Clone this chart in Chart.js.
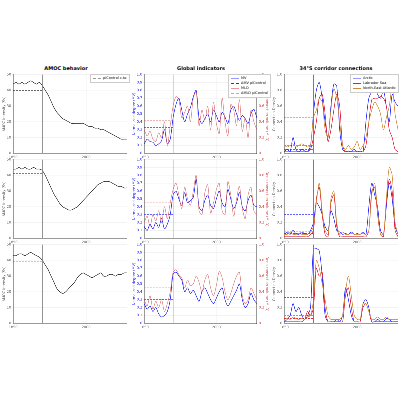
<!DOCTYPE html>
<html><head><meta charset="utf-8">
<script src="https://cdn.jsdelivr.net/npm/chart.js@4"></script>
<style>
body{margin:0;background:#fff;font-family:"DejaVu Sans",sans-serif;}
#wrap{position:relative;width:400px;height:400px;}
.box{position:absolute;}
.t{position:absolute;font-size:5px;font-weight:bold;text-align:center;}
.lg{position:absolute;font-size:3.5px;background:#fff;border:0.5px solid #ccc;padding:1px 2px;line-height:5px;white-space:nowrap;}
.lg i{display:inline-block;width:8px;height:0;border-top:1px solid;vertical-align:middle;margin-right:2px;}
</style></head><body><div id="wrap"></div>
<script>
// time steps (years), transition at index 10
const years = Array.from({length: 40}, (_, i) => 1850 + i * 6);
const xTicks = [1850, 1900, 1950, 2000, 2050];
const shiftIdx = 10;

// AMOC intensity (Sv)
const amoc1 = [44,45,44,45,44,45,46,45,44,45,43,40,37,33,29,26,24,22,21,20,19,19,19,19,19,18,17,17,16,16,15,15,14,13,12,11,10,9,9,9];
const amoc2 = [44,44,45,44,45,44,44,45,44,44,43,40,36,32,28,25,22,20,19,18,18,19,20,22,24,26,28,30,32,34,35,36,36,36,35,34,33,33,32,32];
const amoc3 = [43,43,44,44,43,44,45,44,43,42,40,37,34,30,26,22,20,19,20,22,24,26,29,31,32,31,30,29,30,31,32,30,30,31,31,30,31,31,32,32];
const amocRef = [40, 41, 39];

// global indicators: normalized degree (MV) and MLD
const mv1 = [0.12,0.18,0.15,0.14,0.10,0.12,0.16,0.30,0.12,0.18,0.45,0.62,0.70,0.55,0.40,0.50,0.58,0.72,0.80,0.45,0.38,0.44,0.50,0.40,0.55,0.48,0.40,0.52,0.46,0.38,0.55,0.60,0.50,0.42,0.48,0.44,0.38,0.50,0.56,0.45];
const mld1 = [0.30,0.22,0.28,0.18,0.15,0.26,0.20,0.40,0.10,0.35,0.60,0.72,0.68,0.45,0.52,0.60,0.40,0.70,0.78,0.35,0.55,0.42,0.60,0.30,0.65,0.38,0.25,0.70,0.40,0.22,0.62,0.55,0.35,0.68,0.28,0.45,0.20,0.55,0.40,0.30];
const mv2 = [0.15,0.10,0.18,0.12,0.20,0.14,0.25,0.12,0.18,0.30,0.55,0.60,0.50,0.42,0.58,0.45,0.48,0.52,0.75,0.40,0.35,0.48,0.55,0.42,0.38,0.50,0.60,0.45,0.40,0.62,0.50,0.38,0.45,0.58,0.40,0.35,0.48,0.55,0.42,0.40];
const mld2 = [0.20,0.28,0.15,0.30,0.22,0.35,0.20,0.40,0.25,0.45,0.62,0.70,0.55,0.38,0.65,0.50,0.42,0.60,0.80,0.35,0.30,0.58,0.68,0.32,0.45,0.62,0.70,0.35,0.30,0.72,0.55,0.28,0.50,0.66,0.38,0.25,0.55,0.65,0.35,0.30];
const mv3 = [0.25,0.18,0.22,0.15,0.20,0.12,0.08,0.10,0.15,0.30,0.62,0.65,0.60,0.55,0.40,0.45,0.38,0.42,0.35,0.28,0.40,0.45,0.38,0.30,0.25,0.32,0.40,0.45,0.30,0.22,0.28,0.35,0.42,0.50,0.30,0.20,0.25,0.38,0.30,0.25];
const mld3 = [0.30,0.22,0.35,0.18,0.28,0.20,0.30,0.15,0.25,0.40,0.65,0.68,0.62,0.58,0.45,0.55,0.48,0.50,0.60,0.52,0.40,0.55,0.62,0.45,0.35,0.48,0.66,0.58,0.40,0.30,0.38,0.50,0.60,0.65,0.35,0.25,0.30,0.45,0.38,0.30];
const mvRef = [0.33, 0.30, 0.30];
const mldRef = [0.42, 0.45, 0.45];

// 34°S corridor connection density
const arc1 = [0.02,0.05,0.02,0.20,0.05,0.02,0.05,0.03,0.02,0.10,0.50,0.80,0.90,0.70,0.40,0.20,0.60,0.88,0.85,0.30,0.05,0.02,0.03,0.02,0.05,0.02,0.03,0.02,0.40,0.70,0.78,0.82,0.75,0.70,0.80,0.60,0.40,0.75,0.65,0.60];
const lab1 = [0.02,0.02,0.02,0.02,0.02,0.02,0.02,0.02,0.02,0.05,0.20,0.40,0.70,0.75,0.50,0.15,0.30,0.55,0.75,0.60,0.10,0.02,0.02,0.02,0.02,0.02,0.02,0.02,0.10,0.40,0.68,0.70,0.70,0.72,0.70,0.60,0.30,0.20,0.05,0.02];
const nea1 = [0.10,0.08,0.10,0.12,0.08,0.10,0.12,0.10,0.08,0.10,0.45,0.55,0.70,0.65,0.30,0.20,0.55,0.82,0.70,0.40,0.10,0.05,0.10,0.05,0.08,0.15,0.05,0.10,0.20,0.40,0.55,0.65,0.60,0.50,0.30,0.45,0.60,0.85,0.50,0.30];
const arc2 = [0.05,0.08,0.05,0.10,0.06,0.05,0.08,0.06,0.05,0.10,0.20,0.45,0.40,0.30,0.15,0.10,0.35,0.25,0.10,0.08,0.05,0.06,0.05,0.08,0.05,0.06,0.05,0.08,0.05,0.40,0.70,0.55,0.40,0.10,0.05,0.40,0.70,0.50,0.15,0.05];
const lab2 = [0.02,0.02,0.02,0.02,0.02,0.02,0.02,0.02,0.02,0.05,0.10,0.50,0.65,0.30,0.05,0.02,0.45,0.55,0.15,0.02,0.02,0.02,0.02,0.02,0.02,0.02,0.02,0.02,0.02,0.10,0.60,0.65,0.30,0.05,0.02,0.45,0.75,0.60,0.10,0.02];
const nea2 = [0.05,0.05,0.08,0.05,0.05,0.06,0.05,0.05,0.05,0.08,0.15,0.45,0.70,0.35,0.10,0.05,0.50,0.60,0.20,0.05,0.08,0.05,0.05,0.06,0.05,0.05,0.05,0.06,0.05,0.10,0.55,0.70,0.35,0.05,0.05,0.50,0.90,0.80,0.20,0.05];
const arc3 = [0.02,0.05,0.10,0.25,0.15,0.20,0.10,0.05,0.10,0.20,0.95,0.95,0.92,0.60,0.10,0.02,0.02,0.02,0.05,0.02,0.10,0.45,0.30,0.10,0.02,0.02,0.02,0.25,0.30,0.20,0.02,0.02,0.05,0.02,0.02,0.06,0.05,0.02,0.02,0.02];
const lab3 = [0.02,0.02,0.02,0.02,0.02,0.02,0.02,0.05,0.15,0.10,0.20,0.70,0.60,0.65,0.20,0.02,0.02,0.02,0.02,0.02,0.02,0.35,0.45,0.20,0.02,0.02,0.02,0.20,0.25,0.15,0.02,0.02,0.02,0.02,0.02,0.02,0.02,0.02,0.02,0.02];
const nea3 = [0.05,0.06,0.05,0.08,0.06,0.05,0.06,0.05,0.08,0.10,0.30,0.80,0.70,0.50,0.30,0.10,0.05,0.05,0.05,0.05,0.10,0.40,0.60,0.35,0.10,0.05,0.05,0.25,0.25,0.15,0.05,0.05,0.08,0.05,0.05,0.08,0.05,0.05,0.05,0.05];
const arcRef = [0.45, 0.30, 0.33];
const labRef = [0.05, 0.06, 0.06];
const neaRef = [0.10, 0.09, 0.10];

const wrap = document.getElementById('wrap');
Chart.defaults.font.size = 3.5;
Chart.defaults.font.family = 'DejaVu Sans';
Chart.defaults.animation = false;

function refLine(v) {
  return years.map((_, i) => i <= shiftIdx ? v : null);
}

// vertical line at the transition
const vline = {
  id: 'vline',
  afterDatasetsDraw(c) {
    const x = c.scales.x.getPixelForValue(shiftIdx);
    const ctx = c.ctx;
    ctx.save();
    ctx.strokeStyle = '#777';
    ctx.lineWidth = 0.6;
    ctx.beginPath();
    ctx.moveTo(x, c.chartArea.top);
    ctx.lineTo(x, c.chartArea.bottom);
    ctx.stroke();
    ctx.restore();
  }
};

function makeChart(left, top, w, h, datasets, yOpt, y2Opt) {
  const box = document.createElement('div');
  box.className = 'box';
  box.style.left = left + 'px';
  box.style.top = top + 'px';
  box.style.width = w + 'px';
  box.style.height = h + 'px';
  const cv = document.createElement('canvas');
  box.appendChild(cv);
  wrap.appendChild(box);
  const scales = {
    x: {
      ticks: {
        autoSkip: false, maxRotation: 0, padding: 0.5,
        callback: (v, i) => xTicks.includes(years[i]) ? years[i] : null
      },
      grid: {color: '#e6e6e6', lineWidth: 0.3, tickLength: 1.5},
      border: {color: '#333', width: 0.5}
    },
    y: Object.assign({
      ticks: {padding: 0.5, maxTicksLimit: 7},
      grid: {color: '#e6e6e6', lineWidth: 0.3, tickLength: 1.5},
      border: {color: '#333', width: 0.5}
    }, yOpt)
  };
  if (y2Opt) scales.y2 = Object.assign({
    position: 'right', grid: {display: false, tickLength: 1.5},
    ticks: {padding: 0.5, maxTicksLimit: 7, color: '#d05050'},
    border: {color: '#333', width: 0.5}
  }, y2Opt);
  new Chart(cv, {
    type: 'line',
    data: {labels: years, datasets: datasets.map(d => Object.assign({pointRadius: 0, borderWidth: 0.6, tension: 0.3, fill: false, yAxisID: 'y'}, d))},
    options: {
      responsive: true, maintainAspectRatio: false, devicePixelRatio: 4,
      layout: {padding: {top: 1, right: 1}},
      plugins: {legend: {display: false}, tooltip: {enabled: false}},
      scales: scales
    },
    plugins: [vline]
  });
}

const rowsTop = [72, 157, 242];
const rowH = 88;

// column 1: AMOC behavior
[amoc1, amoc2, amoc3].forEach((d, r) => {
  makeChart(2, rowsTop[r], 126, rowH, [
    {data: d, borderColor: '#333'},
    {data: refLine(amocRef[r]), borderColor: '#333', borderDash: [2, 1], tension: 0}
  ], {min: 0, max: 50, title: {display: true, text: 'AMOC intensity (Sv)', padding: 0}});
});

// column 2: global indicators
[[mv1, mld1], [mv2, mld2], [mv3, mld3]].forEach((p, r) => {
  makeChart(132, rowsTop[r], 138, rowH, [
    {data: p[1], borderColor: 'rgba(215,100,100,0.75)', yAxisID: 'y2'},
    {data: p[0], borderColor: '#2b2bff'},
    {data: refLine(mldRef[r]), borderColor: 'rgba(215,100,100,0.75)', borderDash: [2, 1], tension: 0, yAxisID: 'y2'},
    {data: refLine(mvRef[r]), borderColor: '#2b2bff', borderDash: [2, 1], tension: 0}
  ], {min: 0, max: 1, ticks: {color: '#2b2bff', padding: 0.5}, title: {display: true, text: 'Normalized degree (MV)', color: '#2b2bff', padding: 0}},
     {min: 0, max: 1, title: {display: true, text: 'Deep convection volume (MLD)', color: '#d05050', padding: 0}});
});

// column 3: 34°S corridor connections
[[arc1, lab1, nea1], [arc2, lab2, nea2], [arc3, lab3, nea3]].forEach((p, r) => {
  makeChart(272, rowsTop[r], 127, rowH, [
    {data: p[2], borderColor: '#d08a3a'},
    {data: p[1], borderColor: '#e0203a'},
    {data: p[0], borderColor: '#2b2bff'},
    {data: refLine(neaRef[r]), borderColor: '#d08a3a', borderDash: [2, 1], tension: 0},
    {data: refLine(labRef[r]), borderColor: '#e0203a', borderDash: [2, 1], tension: 0},
    {data: refLine(arcRef[r]), borderColor: '#2b2bff', borderDash: [2, 1], tension: 0}
  ], {min: 0, max: 1, title: {display: true, text: 'Connection Density', padding: 0}});
});

// titles and legends
function addText(cls, left, top, html, width) {
  const d = document.createElement('div');
  d.className = cls;
  d.style.left = left + 'px';
  d.style.top = top + 'px';
  if (width) d.style.width = width + 'px';
  d.innerHTML = html;
  wrap.appendChild(d);
}
addText('t', 2, 65, 'AMOC behavior', 128);
addText('t', 132, 65, 'Global indicators', 138);
addText('t', 272, 65, '34°S corridor connections', 128);
addText('lg', 90, 74, '<i style="border-color:#999;border-top-style:dashed"></i>piControl c.te');
addText('lg', 228, 74, '<i style="border-color:#99f"></i>MV<br><i style="border-color:#22f;border-top-style:dashed"></i>ΔMV piControl<br><i style="border-color:#e99"></i>MLD<br><i style="border-color:#e99;border-top-style:dashed"></i>ΔMLD piControl');
addText('lg', 350, 74, '<i style="border-color:#99f"></i>Arctic<br><i style="border-color:#e0203a"></i>Labrador Sea<br><i style="border-color:#d08a3a"></i>North-East Atlantic');
</script></body></html>
